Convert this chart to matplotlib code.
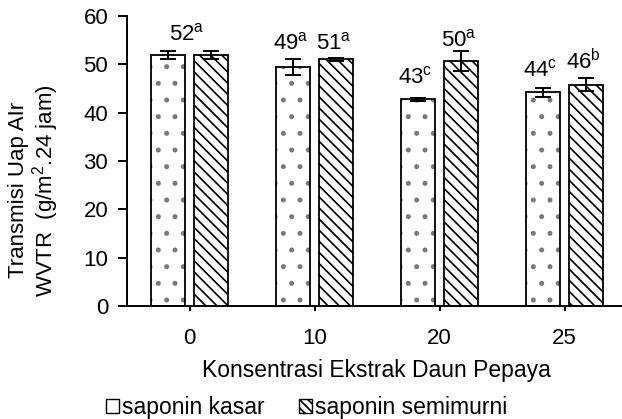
import matplotlib
matplotlib.use("Agg")
import matplotlib.pyplot as plt
from matplotlib.patches import Patch
import numpy as np

plt.rcParams['font.family'] = ['Liberation Sans', 'DejaVu Sans']
plt.rcParams['mathtext.fontset'] = 'custom'
plt.rcParams['mathtext.rm'] = 'Liberation Sans'
plt.rcParams['mathtext.it'] = 'Liberation Sans'
plt.rcParams['hatch.linewidth'] = 1.2

categories = ['0', '10', '20', '25']
series_names = ['saponin kasar', 'saponin semimurni']
kasar = [52.0, 49.4, 42.8, 44.2]
kasar_err = [0.8, 1.65, 0.3, 1.0]
semi = [52.0, 51.0, 50.7, 45.8]
semi_err = [0.8, 0.4, 2.1, 1.4]
kasar_lbl = ['52', '49', '43', '44']
kasar_sup = ['a', 'a', 'c', 'c']
kasar_lbl_y = [55.0, 53.0, 46.1, 47.4]
semi_lbl = [None, '51', '50', '46']
semi_sup = [None, 'a', 'a', 'b']
semi_lbl_y = [None, 53.0, 53.8, 49.0]
yticks = [0, 10, 20, 30, 40, 50, 60]

W, H = 622, 419
fig = plt.figure(figsize=(W / 100, H / 100), dpi=100)
ax = fig.add_axes([127 / W, (H - 306) / H, 500 / W, 290 / H])

x = np.arange(len(categories))
off = 0.172
bw = 0.272

# hatch layers (gray dots / black stripes), then black outlines
ax.bar(x - off, kasar, bw, facecolor='white', edgecolor='#7a7a7a', hatch='.', linewidth=0)
ax.bar(x + off, semi, bw, facecolor='white', edgecolor='black', hatch='\\\\\\', linewidth=0)
ax.bar(x - off, kasar, bw, fill=False, edgecolor='black', linewidth=1.3)
ax.bar(x + off, semi, bw, fill=False, edgecolor='black', linewidth=1.3)
ax.errorbar(x - off, kasar, yerr=kasar_err, fmt='none', ecolor='black', elinewidth=1.4, capsize=5.5, capthick=1.4)
ax.errorbar(x + off, semi, yerr=semi_err, fmt='none', ecolor='black', elinewidth=1.4, capsize=5.5, capthick=1.4)

lfs = 16
for i in range(len(categories)):
    xi = (x[i] - 0.02) if semi_lbl[i] is None else (x[i] - off - 0.02)
    ax.text(xi, kasar_lbl_y[i], kasar_lbl[i] + r'$^{\mathrm{' + kasar_sup[i] + '}}$',
            ha='center', va='baseline', fontsize=lfs)
    if semi_lbl[i] is not None:
        ax.text(x[i] + off - 0.02, semi_lbl_y[i], semi_lbl[i] + r'$^{\mathrm{' + semi_sup[i] + '}}$',
                ha='center', va='baseline', fontsize=lfs)

ax.set_xlim(-0.5, 3.5)
ax.set_ylim(0, 60)
ax.set_yticks(yticks)
ax.set_xticks(x)
ax.set_xticklabels(categories)
for s in ['top', 'right']:
    ax.spines[s].set_visible(False)
for s in ['left', 'bottom']:
    ax.spines[s].set_linewidth(1.4)
    ax.spines[s].set_color('black')
ax.tick_params(axis='y', direction='out', length=6.5, width=1.4, pad=7, labelsize=16)
ax.tick_params(axis='x', direction='out', length=3.5, width=1.4, pad=12.5, labelsize=16)

fig.text(376 / W, (H - 377) / H, 'Konsentrasi Ekstrak Daun Pepaya', ha='center', va='baseline', fontsize=16.5)
fig.text(24 / W, (H - 190) / H, 'Transmisi Uap AIr', rotation=90, ha='center', va='baseline',
         rotation_mode='anchor', fontsize=16)
fig.text(52.5 / W, (H - 191) / H, 'WVTR  (g/m$^{2}$.24 jam)', rotation=90, ha='center', va='baseline',
         rotation_mode='anchor', fontsize=16)

handles = [Patch(facecolor='white', edgecolor='black', linewidth=1.0),
           Patch(facecolor='white', edgecolor='black', hatch='\\\\\\\\', linewidth=1.0)]
fig.legend(handles, series_names, loc='lower left', bbox_to_anchor=(106 / W, (H - 419) / H),
           ncol=2, frameon=False, fontsize=16.5, handlelength=0.55, handleheight=0.55,
           handletextpad=0.15, columnspacing=1.5, borderpad=0, borderaxespad=0)

fig.savefig('out.png', dpi=100)
